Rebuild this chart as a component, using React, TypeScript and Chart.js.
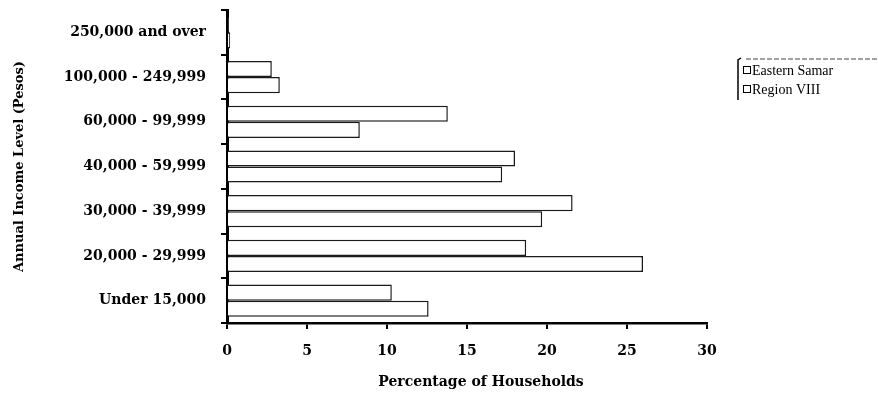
import React, { useEffect, useRef } from "react";
import { Chart, registerables } from "chart.js";

Chart.register(...registerables);

const categories = [
  "250,000 and over",
  "100,000 - 249,999",
  "60,000 - 99,999",
  "40,000 - 59,999",
  "30,000 - 39,999",
  "20,000 - 29,999",
  "Under 15,000",
];
const easternSamar = [0.1, 2.8, 13.8, 18.0, 21.6, 18.7, 10.3];
const regionVIII = [0.2, 3.3, 8.3, 17.2, 19.7, 26.0, 12.6];
const seriesNames = ["Eastern Samar", "Region VIII"];
const xMin = 0;
const xMax = 30;
const xStep = 5;
const xTitle = "Percentage of Households";
const yTitle = "Annual Income Level (Pesos)";

const customPlugin = {
  id: "customDecor",
  afterDraw(chart: any) {
    const ctx = chart.ctx;
    const { chartArea, scales } = chart;
    ctx.save();
    // x axis title
    ctx.font = 'bold 14px "DejaVu Serif"';
    ctx.fillStyle = "#000";
    ctx.textAlign = "center";
    ctx.textBaseline = "middle";
    const xs = scales.x;
    ctx.fillText(xTitle, (xs.left + xs.right) / 2 + 14, chartArea.bottom + 59);

    // legend
    const lx = chartArea.right + 31;
    const ly = chartArea.top + 48;
    ctx.strokeStyle = "#000";
    ctx.lineWidth = 1.5;
    ctx.beginPath();
    ctx.moveTo(lx + 3, ly);
    ctx.lineTo(lx, ly + 2);
    ctx.lineTo(lx, ly + 42);
    ctx.stroke();
    ctx.strokeStyle = "#444";
    ctx.lineWidth = 1;
    ctx.setLineDash([5, 2]);
    ctx.beginPath();
    ctx.moveTo(lx + 8, ly + 1);
    ctx.lineTo(chart.width, ly + 1);
    ctx.stroke();
    ctx.setLineDash([]);
    ctx.font = '14px "Liberation Serif"';
    ctx.textAlign = "left";
    ctx.fillStyle = "#000";
    seriesNames.forEach((name, i) => {
      const y = ly + 12 + i * 19;
      ctx.strokeStyle = "#000";
      ctx.lineWidth = 1;
      ctx.strokeRect(lx + 5.5, y - 3.5, 7, 7);
      ctx.fillText(name, lx + 14, y + 1);
    });
    ctx.restore();
  },
};

export default function App() {
  const canvasRef = useRef<HTMLCanvasElement | null>(null);

  useEffect(() => {
    if (!canvasRef.current) return;
    const chart = new Chart(canvasRef.current, {
      type: "bar",
      data: {
        labels: categories,
        datasets: [
          {
            label: seriesNames[0],
            data: easternSamar,
            backgroundColor: "#ffffff",
            borderColor: "#1a1a1a",
            borderWidth: 1.5,
            categoryPercentage: 0.72,
            barPercentage: 1.0,
          },
          {
            label: seriesNames[1],
            data: regionVIII,
            backgroundColor: "#ffffff",
            borderColor: "#1a1a1a",
            borderWidth: 1.5,
            categoryPercentage: 0.72,
            barPercentage: 1.0,
          },
        ],
      },
      options: {
        indexAxis: "y",
        animation: false,
        responsive: true,
        maintainAspectRatio: false,
        layout: { padding: { left: 6, top: 10, right: 171, bottom: 0 } },
        plugins: {
          legend: { display: false },
          tooltip: { enabled: false },
        },
        scales: {
          x: {
            min: xMin,
            max: xMax,
            z: 1,
            ticks: {
              stepSize: xStep,
              color: "#000",
              padding: 14,
              font: { family: '"DejaVu Serif"', size: 14, weight: "bold" },
            },
            grid: {
              drawOnChartArea: false,
              tickLength: 6,
              color: "#000",
              lineWidth: 2,
            },
            border: { color: "#000", width: 2.5 },
            afterFit: (scale: any) => {
              scale.height = 74;
              scale.paddingRight = 0;
            },
          },
          y: {
            z: 1,
            ticks: {
              color: "#000",
              padding: 15,
              font: { family: '"DejaVu Serif"', size: 14, weight: "bold" },
            },
            grid: {
              drawOnChartArea: false,
              tickLength: 6,
              color: "#000",
              lineWidth: 2,
              offset: true,
            },
            border: { color: "#000", width: 3 },
            title: {
              display: true,
              text: yTitle,
              color: "#000",
              padding: { top: 6, bottom: 4 },
              font: { family: '"DejaVu Serif"', size: 13, weight: "bold" },
            },
            afterFit: (scale: any) => {
              scale.width = 221;
              scale.paddingTop = 0;
              scale.paddingBottom = 0;
            },
          },
        },
      },
      plugins: [customPlugin],
    });
    return () => chart.destroy();
  }, []);

  return (
    <div
      style={{
        position: "fixed",
        left: 0,
        top: 0,
        width: 878,
        height: 397,
        background: "#fff",
      }}
    >
      <canvas ref={canvasRef} />
    </div>
  );
}
